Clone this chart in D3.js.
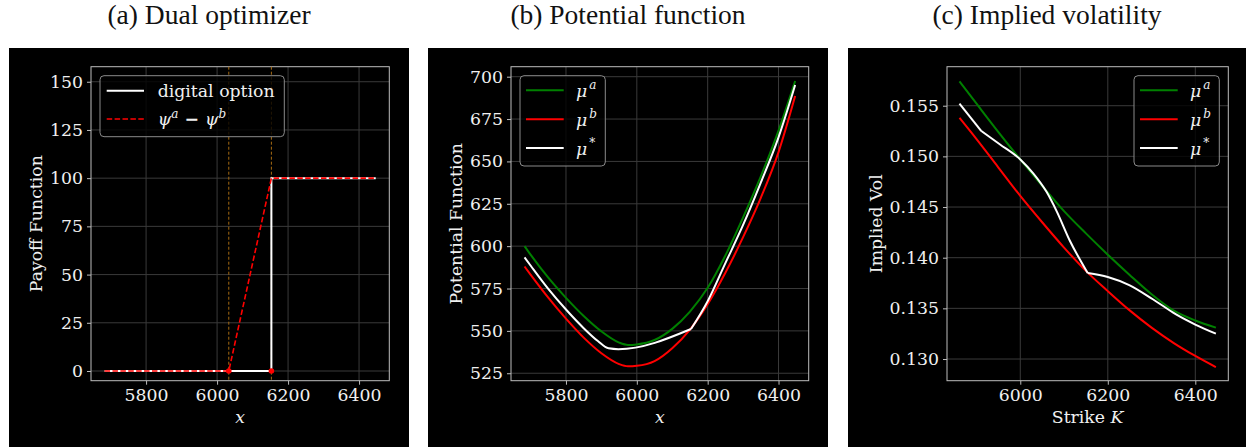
<!DOCTYPE html>
<html><head><meta charset="utf-8">
<script src="https://cdn.jsdelivr.net/npm/d3@7"></script>
<style>body{margin:0;background:#fff;} svg{display:block}</style>
</head><body><svg id="c" width="1246" height="447"></svg>
<script>
// ---------- DATA ----------
const titles = ["(a) Dual optimizer", "(b) Potential function", "(c) Implied volatility"];
// Panel (a)
const digitalX = [5683, 6153, 6153, 6447];
const digitalY = [0, 0, 100, 100];
const psiX = [5683, 6033, 6153, 6447];
const psiY = [0, 0, 100, 100];
const strikes = [6033, 6153];
const ticksXa = [5800, 6000, 6200, 6400];
const ticksYa = [0, 25, 50, 75, 100, 125, 150];
// Panel (b)
const potX  = [5683, 5700, 5750, 5800, 5850, 5900, 5950, 5975, 6000, 6050, 6100, 6150, 6200, 6250, 6300, 6350, 6400, 6447];
const muA   = [600.0, 595.0, 581.4, 569.5, 558.8, 549.7, 543.1, 541.7, 542.0, 544.6, 551.2, 561.4, 575.4, 594.5, 617.0, 641.2, 668.2, 697.5];
const muB   = [588.0, 583.2, 569.6, 557.2, 546.0, 536.8, 530.4, 529.1, 529.4, 532.2, 539.8, 550.8, 565.8, 584.3, 605.3, 628.5, 655.5, 688.6];
const muStarX = [5683, 5700, 5750, 5800, 5850, 5890, 5920, 5948, 6153, 6200, 6250, 6300, 6350, 6400, 6447];
const muStar  = [593.4, 588.6, 574.8, 562.6, 551.6, 544.0, 539.7, 539.2, 551.1, 567.5, 590.0, 612.5, 637.5, 664.2, 695.1];
const muStarKinks = [6153];
const ticksXb = [5800, 6000, 6200, 6400];
const ticksYb = [525, 550, 575, 600, 625, 650, 675, 700];
// Panel (c)
const strikeK = [5861, 5900, 5950, 6000, 6050, 6100, 6150, 6200, 6250, 6300, 6350, 6400, 6447];
const ivA     = [0.1574, 0.1552, 0.1524, 0.1497, 0.1471, 0.1446, 0.1424, 0.1403, 0.1383, 0.1364, 0.1348, 0.1338, 0.1331];
const ivB     = [0.1538, 0.1517, 0.1489, 0.1461, 0.1435, 0.1410, 0.1387, 0.1367, 0.1348, 0.1331, 0.1316, 0.1303, 0.1292];
const ivStarK = [5861, 5911, 5953, 6000, 6030, 6060, 6083, 6113, 6154, 6200, 6249, 6303, 6356, 6400, 6447];
const ivStar  = [0.1552, 0.1525, 0.1512, 0.1497, 0.1483, 0.1465, 0.1446, 0.1417, 0.1385, 0.1381, 0.1373, 0.1359, 0.1344, 0.1334, 0.1325];
const ivStarKinks = [5911, 6154];
const ticksXc = [6000, 6200, 6400];
const ticksYc = [0.130, 0.135, 0.140, 0.145, 0.150, 0.155];

// ---------- STYLE ----------
const svg = d3.select("#c");
const TXT = "#f0f0f0", SPINE = "#bdbdbd", GRID = "#3a3a3a";
const SERIF = "'DejaVu Serif', serif";
const FS = 17.3, FSUP = 12;

const panels = [
  {bg:[9,409], box:{l:91, r:389.3, t:66.7, b:380.7}, xd:[5644.8, 6485.2], yd:[-5.03, 157.8],
   xt:ticksXa, yt:ticksYa, yfmt:d3.format("d"), ylabel:"Payoff Function", ylabX:36, xlabel:"x"},
  {bg:[428,828], box:{l:511, r:808.7, t:66.7, b:380.7}, xd:[5644.8, 6485.2], yd:[520.6, 705.9],
   xt:ticksXb, yt:ticksYb, yfmt:d3.format("d"), ylabel:"Potential Function", ylabX:456, xlabel:"x"},
  {bg:[848,1246], box:{l:947, r:1228.3, t:66.7, b:380.7}, xd:[5832.5, 6475.4], yd:[0.12786, 0.15885],
   xt:ticksXc, yt:ticksYc, yfmt:d3.format(".3f"), ylabel:"Implied Vol", ylabX:875.5, xlabel:"strike"}
];

function splitAt(xs, ys, kinks){
  const segs=[]; let cur=[];
  xs.forEach((x,i)=>{ cur.push([x,ys[i]]); if(kinks.includes(x) && i>0 && i<xs.length-1){ segs.push(cur); cur=[[x,ys[i]]]; } });
  segs.push(cur); return segs;
}

panels.forEach((p,pi)=>{
  const g = svg.append("g");
  g.append("rect").attr("x",p.bg[0]).attr("y",48).attr("width",p.bg[1]-p.bg[0]).attr("height",447-48).attr("fill","#000");
  g.append("text").attr("x",(p.bg[0]+p.bg[1])/2).attr("y",24).attr("text-anchor","middle")
    .attr("font-family","'Liberation Serif', serif").attr("font-size",27.5).attr("fill","#111").text(titles[pi]);
  const x = d3.scaleLinear().domain(p.xd).range([p.box.l,p.box.r]);
  const y = d3.scaleLinear().domain(p.yd).range([p.box.b,p.box.t]);
  p.x=x; p.y=y;
  // grid
  g.append("g").selectAll("line").data(p.xt).join("line")
    .attr("x1",d=>x(d)).attr("x2",d=>x(d)).attr("y1",p.box.t).attr("y2",p.box.b).attr("stroke",GRID).attr("stroke-width",1);
  g.append("g").selectAll("line").data(p.yt).join("line")
    .attr("y1",d=>y(d)).attr("y2",d=>y(d)).attr("x1",p.box.l).attr("x2",p.box.r).attr("stroke",GRID).attr("stroke-width",1);
  // axes
  const ax = g.append("g").attr("transform",`translate(0,${p.box.b})`).call(d3.axisBottom(x).tickValues(p.xt).tickFormat(d3.format("d")).tickSize(4).tickPadding(4));
  const ay = g.append("g").attr("transform",`translate(${p.box.l},0)`).call(d3.axisLeft(y).tickValues(p.yt).tickFormat(p.yfmt).tickSize(4).tickPadding(4));
  [ax,ay].forEach(a=>{
    a.select(".domain").remove();
    a.selectAll("line").attr("stroke",SPINE);
    a.selectAll("text").attr("fill",TXT).attr("font-family",SERIF).attr("font-size",FS);
  });
  g.append("rect").attr("x",p.box.l).attr("y",p.box.t).attr("width",p.box.r-p.box.l).attr("height",p.box.b-p.box.t)
    .attr("fill","none").attr("stroke",SPINE).attr("stroke-width",1);
  // labels
  g.append("text").attr("transform",`translate(${p.ylabX},${(p.box.t+p.box.b)/2}) rotate(-90)`)
    .attr("text-anchor","middle").attr("dominant-baseline","central").attr("font-family",SERIF).attr("font-size",FS).attr("fill",TXT).text(p.ylabel);
  const xl = g.append("text").attr("x",(p.box.l+p.box.r)/2).attr("y",423).attr("text-anchor","middle")
    .attr("font-family",SERIF).attr("font-size",FS).attr("fill",TXT);
  if(p.xlabel==="x"){ xl.attr("font-style","italic").text("x"); }
  else { xl.append("tspan").text("Strike "); xl.append("tspan").attr("font-style","italic").text("K"); }
  p.g = g;
});

// ---------- PANEL (a) ----------
{
  const p = panels[0], g = p.g, x=p.x, y=p.y;
  const G = g.append("g");
  strikes.forEach(k=>{
    G.append("line").attr("x1",x(k)).attr("x2",x(k)).attr("y1",p.box.t).attr("y2",p.box.b)
      .attr("stroke","#a86c12").attr("stroke-width",1).attr("stroke-dasharray","3,2");
  });
  const line = d3.line().x(d=>x(d[0])).y(d=>y(d[1]));
  G.append("path").attr("d",line(digitalX.map((v,i)=>[v,digitalY[i]]))).attr("fill","none").attr("stroke","#fff").attr("stroke-width",2);
  G.append("path").attr("d",line(psiX.map((v,i)=>[v,psiY[i]]))).attr("fill","none").attr("stroke","#ff0000").attr("stroke-width",1.6).attr("stroke-dasharray","5.5,2.4");
  G.selectAll("circle").data(strikes).join("circle").attr("cx",d=>x(d)).attr("cy",y(0)).attr("r",2.8).attr("fill","#ff0000");
  // legend
  const L = g.append("g");
  L.append("rect").attr("x",100).attr("y",75.7).attr("width",184.3).attr("height",61).attr("rx",4)
    .attr("fill","#000").attr("fill-opacity",0.8).attr("stroke","#8a8a8a").attr("stroke-width",1);
  L.append("line").attr("x1",106.7).attr("x2",144).attr("y1",90.7).attr("y2",90.7).attr("stroke","#fff").attr("stroke-width",2);
  L.append("line").attr("x1",106.7).attr("x2",144).attr("y1",119).attr("y2",119).attr("stroke","#ff0000").attr("stroke-width",1.6).attr("stroke-dasharray","5.5,2.4");
  L.append("text").attr("x",157.7).attr("y",96.7).attr("font-family",SERIF).attr("font-size",FS).attr("fill",TXT).text("digital option");
  const t2 = L.append("text").attr("x",157.7).attr("y",125).attr("font-family",SERIF).attr("font-size",FS).attr("fill",TXT);
  t2.append("tspan").attr("font-style","italic").text("ψ");
  t2.append("tspan").attr("font-style","italic").attr("font-size",FSUP).attr("dy",-7).text("a");
  t2.append("tspan").attr("dy",7).attr("font-weight","bold").text(" − ");
  t2.append("tspan").attr("font-style","italic").text("ψ");
  t2.append("tspan").attr("font-style","italic").attr("font-size",FSUP).attr("dy",-7).text("b");
}

// ---------- series helpers ----------
function drawSeries(p, xs, ys, color, kinks){
  const line = d3.line().x(d=>p.x(d[0])).y(d=>p.y(d[1])).curve(d3.curveMonotoneX);
  splitAt(xs, ys, kinks||[]).forEach(seg=>{
    p.g.append("path").attr("d",line(seg)).attr("fill","none").attr("stroke",color).attr("stroke-width",2).attr("stroke-linejoin","round");
  });
}
function muLegend(p, lx){
  const L = p.g.append("g");
  L.append("rect").attr("x",lx).attr("y",75.7).attr("width",85.3).attr("height",90.3).attr("rx",4)
    .attr("fill","#000").attr("fill-opacity",0.8).attr("stroke","#8a8a8a").attr("stroke-width",1);
  const items=[["green","a"],["#ff0000","b"],["#ffffff","*"]];
  items.forEach((it,i)=>{
    const yy = 90.3 + i*28.85;
    L.append("line").attr("x1",lx+6).attr("x2",lx+43.7).attr("y1",yy).attr("y2",yy).attr("stroke",it[0]).attr("stroke-width",2);
    const t = L.append("text").attr("x",lx+56).attr("y",yy+7).attr("font-family",SERIF).attr("font-size",FS).attr("fill",TXT);
    t.append("tspan").attr("font-style","italic").text("μ");
    t.append("tspan").attr("font-style", it[1]==="*"?"normal":"italic").attr("font-size",FSUP).attr("dx",2).attr("dy",-8).text(it[1]);
  });
}

// ---------- PANEL (b) ----------
{
  const p = panels[1];
  drawSeries(p, potX, muA, "green");
  drawSeries(p, potX, muB, "#ff0000");
  drawSeries(p, muStarX, muStar, "#ffffff", muStarKinks);
  muLegend(p, 520);
}
// ---------- PANEL (c) ----------
{
  const p = panels[2];
  drawSeries(p, strikeK, ivA, "green");
  drawSeries(p, strikeK, ivB, "#ff0000");
  drawSeries(p, ivStarK, ivStar, "#ffffff", ivStarKinks);
  muLegend(p, 1134);
}
</script></body></html>
